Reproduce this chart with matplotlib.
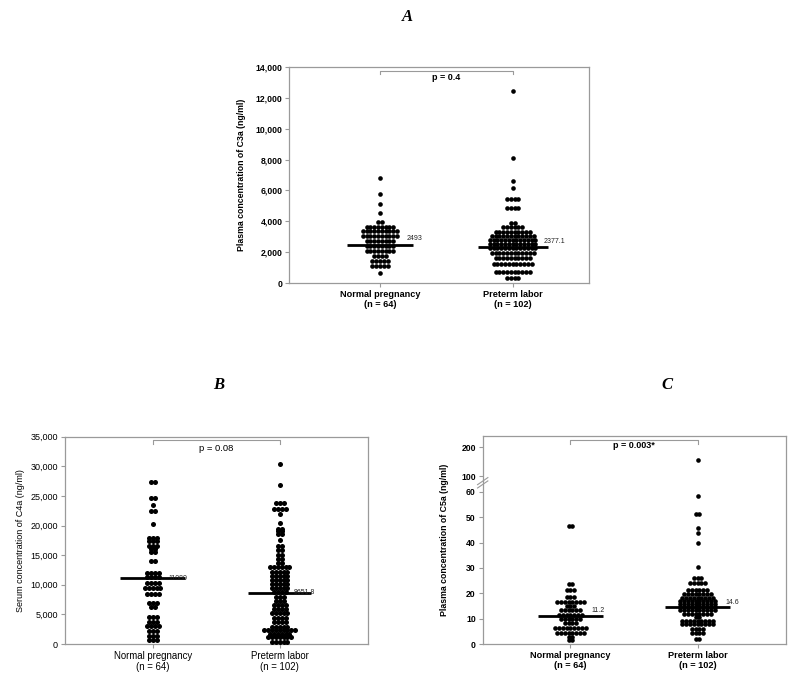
# dot plots of complement split products, normal pregnancy vs preterm labor

import matplotlib
matplotlib.use('Agg')
import matplotlib.pyplot as plt
import matplotlib.transforms as mtransforms
from matplotlib.ticker import StrMethodFormatter, FixedLocator
import numpy as np

plt.rcParams['font.family'] = ['Liberation Sans', 'DejaVu Sans']

groups = ['Normal pregnancy\n(n = 64)', 'Preterm labor\n(n = 102)']

# Panel A - C3a (ng/ml): row level and number of dots in each row
c3a_normal_levels = [6800, 5800, 5150, 4550, 3950, 3630, 3350, 3050, 2730, 2420, 2060, 1760, 1440, 1120, 650]
c3a_normal_counts = [1, 1, 1, 1, 2, 8, 10, 10, 8, 8, 8, 4, 5, 5, 1]
c3a_preterm_levels = [12450, 8070, 6600, 6170, 5420, 4880, 3920, 3660, 3310, 3050, 2780,
                      2560, 2300, 1980, 1610, 1230, 760, 370]
c3a_preterm_counts = [1, 1, 1, 1, 4, 4, 2, 6, 10, 12, 13, 13, 13, 12, 10, 11, 10, 4]
c3a_medians = [2493, 2377.1]
c3a_median_labels = ['2493', '2377.1']

# Panel B - C4a (ng/ml)
c4a_normal_levels = [27310, 24700, 23540, 22400, 20270, 17950, 17350, 16600, 16000, 15450, 14050,
                     12050, 11250, 10350, 9400, 8450, 6880, 6300, 4600, 3750, 3000, 2200, 1400, 650]
c4a_normal_counts = [2, 2, 1, 2, 1, 3, 3, 3, 2, 2, 2, 4, 4, 4, 5, 4, 3, 2, 3, 3, 4, 3, 3, 3]
c4a_preterm_levels = [30420, 26920, 23820, 22800, 22000, 20430, 19470, 19020, 18620, 17610, 16590,
                      15800, 15070, 14340, 13660, 12920, 12140, 11510, 10840, 10160, 9430, 8860,
                      8010, 7330, 6600, 5880, 5200, 4350, 3670, 2930, 2370, 1690, 1130, 390]
c4a_preterm_counts = [1, 1, 3, 4, 1, 1, 2, 2, 2, 1, 2, 2, 2, 2, 2, 6, 5, 5, 5, 5, 5, 4,
                      3, 3, 4, 4, 5, 4, 4, 5, 9, 6, 7, 5]
c4a_medians = [11080, 8651.8]
c4a_median_labels = ['11080', '8651.8']

# Panel C - C5a (ng/ml)
c5a_normal_levels = [46.4, 23.6, 21.3, 18.5, 16.6, 15.0, 13.4, 11.5, 9.9, 8.2, 6.3, 4.4, 2.8, 1.4]
c5a_normal_counts = [2, 2, 3, 3, 8, 3, 6, 7, 6, 4, 9, 8, 2, 2]
c5a_preterm_levels = [155, 58.5, 51.4, 45.8, 43.8, 39.7, 30.4, 26.2, 24.0, 21.4, 19.7, 18.2,
                      16.9, 15.9, 14.6, 13.3, 12.0, 10.8, 9.2, 7.7, 6.0, 4.3, 1.8]
c5a_preterm_counts = [1, 1, 2, 1, 1, 1, 1, 3, 5, 6, 8, 9, 10, 10, 10, 10, 8, 2, 9, 9, 4, 4, 2]
c5a_medians = [11.2, 14.6]
c5a_median_labels = ['11.2', '14.6']

DPI = 100
GREY = '#9a9a9a'

fig = plt.figure(figsize=(8, 6.92), dpi=DPI)


def px_to_data(ax, px):
    # horizontal pixel distance -> x data units
    x0, x1 = ax.get_xlim()
    w = ax.get_position().width * fig.get_figwidth() * DPI
    return px * (x1 - x0) / w


def dot_column(ax, xc, levels, counts, step, size):
    xs, ys = [], []
    for lv, n in zip(levels, counts):
        off = (np.arange(n) - (n - 1) / 2) * step
        xs.extend(xc + off)
        ys.extend([lv] * n)
    ax.scatter(xs, ys, s=size, c='black', linewidths=0, zorder=3)


def median_mark(ax, xc, val, label, half_px, lab_dx, lab_dy, fs):
    hw = px_to_data(ax, half_px)
    ax.plot([xc - hw, xc + hw], [val, val], color='black', lw=2.0, zorder=4,
            solid_capstyle='butt')
    ax.annotate(label, xy=(xc + hw, val), xytext=(lab_dx * 0.72, lab_dy * 0.72),
                textcoords='offset points', fontsize=fs, va='center', ha='left',
                color='#222222', zorder=5)


def bracket(ax, y_top, y_tip, y_txt, text, fs, weight):
    tr = mtransforms.blended_transform_factory(ax.transData, ax.transAxes)
    ax.plot([1, 1, 2, 2], [y_tip, y_top, y_top, y_tip], color=GREY, lw=0.8,
            transform=tr, clip_on=False)
    ax.text(1.5, y_txt, text, transform=tr, ha='center', va='center',
            fontsize=fs, fontweight=weight)


def style_axes(ax, weight, fs):
    for sp in ax.spines.values():
        sp.set_color(GREY)
        sp.set_linewidth(0.9)
    ax.tick_params(axis='both', colors=GREY, labelcolor='black', length=3,
                   width=0.8, labelsize=fs, pad=2)
    ax.set_xticks([1, 2])
    ax.set_xticklabels(groups, fontweight=weight, fontsize=fs + 0.4, linespacing=1.1)
    for t in ax.get_yticklabels():
        t.set_fontweight(weight)


# ---------------- Panel A ----------------
axA = fig.add_axes([289.3 / 800, 1 - 283.3 / 692, 300 / 800, 216.6 / 692])
axA.set_xlim(0.317, 2.578)
axA.set_ylim(0, 14000)
axA.set_yticks(np.arange(0, 14001, 2000))
axA.yaxis.set_major_formatter(StrMethodFormatter('{x:,.0f}'))
style_axes(axA, 'bold', 6.2)
stepA = px_to_data(axA, 3.8)
dot_column(axA, 1, c3a_normal_levels, c3a_normal_counts, stepA, 11)
dot_column(axA, 2, c3a_preterm_levels, c3a_preterm_counts, stepA, 11)
median_mark(axA, 1, c3a_medians[0], c3a_median_labels[0], 33, -6, 6, 5)
median_mark(axA, 2, c3a_medians[1], c3a_median_labels[1], 35, -4, 5, 5)
bracket(axA, 0.9815, 0.966, 0.952, 'p = 0.4', 6.5, 'bold')
axA.set_ylabel('Plasma concentration of C3a (ng/ml)', fontsize=6.3, fontweight='bold')
axA.yaxis.set_label_coords(-0.145, 0.5)
fig.text(407 / 800, 1 - 17 / 692, 'A', ha='center', va='center', fontsize=12,
         family='Liberation Serif', style='italic', fontweight='bold')

# ---------------- Panel B ----------------
axB = fig.add_axes([65 / 800, 1 - 644 / 692, 302.7 / 800, 207.3 / 692])
axB.set_xlim(0.3097, 2.693)
axB.set_ylim(0, 35000)
axB.set_yticks(np.arange(0, 35001, 5000))
axB.yaxis.set_major_formatter(StrMethodFormatter('{x:,.0f}'))
style_axes(axB, 'normal', 6.5)
stepB = px_to_data(axB, 3.9)
dot_column(axB, 1, c4a_normal_levels, c4a_normal_counts, stepB, 13)
dot_column(axB, 2, c4a_preterm_levels, c4a_preterm_counts, stepB, 13)
median_mark(axB, 1, c4a_medians[0], c4a_median_labels[0], 32.5, -17, 0, 5)
median_mark(axB, 2, c4a_medians[1], c4a_median_labels[1], 31.5, -17, 0, 5)
bracket(axB, 0.984, 0.965, 0.944, 'p = 0.08', 6.8, 'normal')
axB.set_ylabel('Serum concentration of C4a (ng/ml)', fontsize=6.5)
axB.yaxis.set_label_coords(-0.132, 0.5)
fig.text(219 / 800, 1 - 385 / 692, 'B', ha='center', va='center', fontsize=12,
         family='Liberation Serif', style='italic', fontweight='bold')

# ---------------- Panel C (broken axis) ----------------
brk_lo, brk_hi = 62.0, 100.0
gap = 4.23       # lower-scale units between 62 and 100
upper = 0.1127   # compression above the break


def c5a_fwd(v):
    v = np.asarray(v, dtype=float)
    return np.interp(v, [-1000, brk_lo, brk_hi, 10000],
                     [-1000, brk_lo, brk_lo + gap, brk_lo + gap + (10000 - brk_hi) * upper])


def c5a_inv(t):
    t = np.asarray(t, dtype=float)
    return np.interp(t, [-1000, brk_lo, brk_lo + gap, brk_lo + gap + (10000 - brk_hi) * upper],
                     [-1000, brk_lo, brk_hi, 10000])


axC = fig.add_axes([482.7 / 800, 1 - 644 / 692, 303 / 800, 208 / 692])
axC.set_yscale('function', functions=(c5a_fwd, c5a_inv))
axC.set_xlim(0.3097, 2.693)
axC.set_ylim(0, 240)
axC.yaxis.set_major_locator(FixedLocator([0, 10, 20, 30, 40, 50, 60, 100, 200]))
axC.yaxis.set_minor_locator(FixedLocator([]))
axC.yaxis.set_major_formatter(StrMethodFormatter('{x:.0f}'))
style_axes(axC, 'bold', 6.2)
stepC = px_to_data(axC, 3.8)
dot_column(axC, 1, c5a_normal_levels, c5a_normal_counts, stepC, 11)
dot_column(axC, 2, c5a_preterm_levels, c5a_preterm_counts, stepC, 11)
median_mark(axC, 1, c5a_medians[0], c5a_median_labels[0], 32.5, -11, 5, 5)
median_mark(axC, 2, c5a_medians[1], c5a_median_labels[1], 32.5, -5, 4, 5)
bracket(axC, 0.981, 0.962, 0.952, 'p = 0.003*', 6.5, 'bold')
axC.set_ylabel('Plasma concentration of C5a (ng/ml)', fontsize=6.3, fontweight='bold')
axC.yaxis.set_label_coords(-0.11, 0.5)
# break marks on the y axis
yb = 0.775
for dy in (-0.008, 0.008):
    axC.plot([-0.017, 0.017], [yb + dy - 0.017, yb + dy + 0.017], transform=axC.transAxes,
             color=GREY, lw=0.8, clip_on=False)
fig.text(667 / 800, 1 - 385 / 692, 'C', ha='center', va='center', fontsize=12,
         family='Liberation Serif', style='italic', fontweight='bold')

fig.savefig('out.png', dpi=DPI)
